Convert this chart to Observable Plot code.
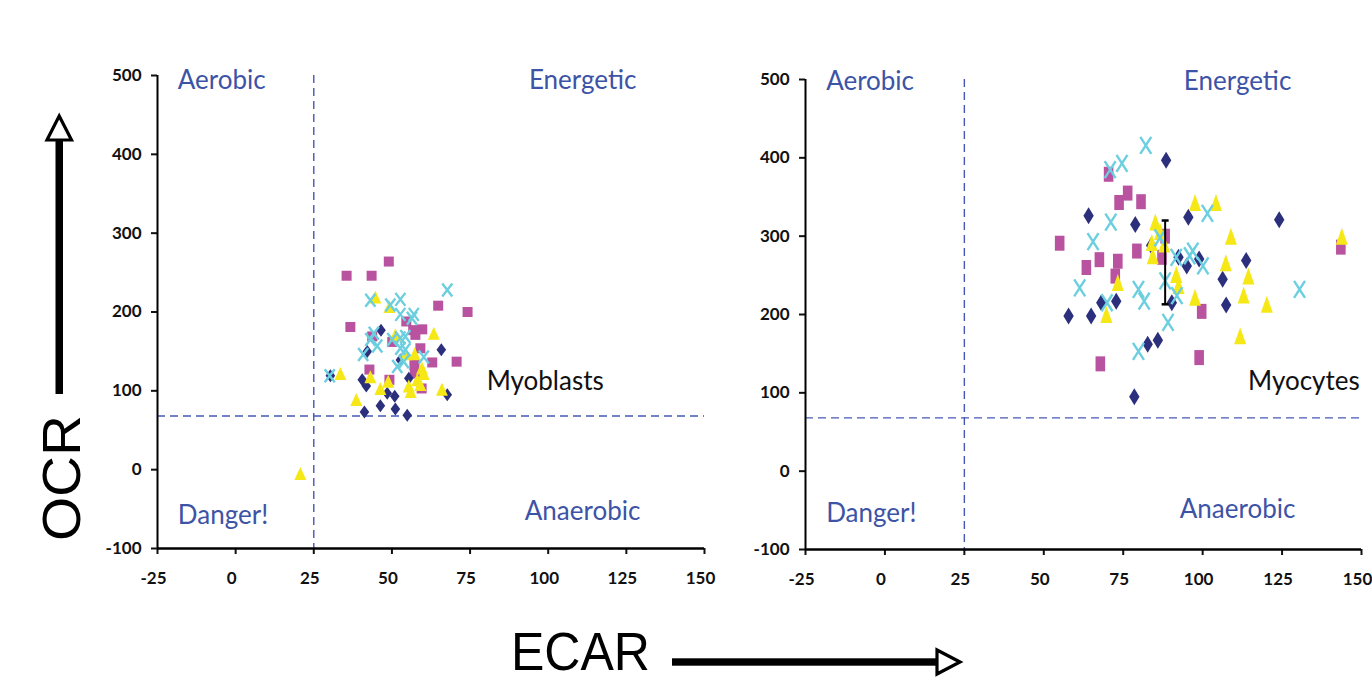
<!DOCTYPE html>
<html><head><meta charset="utf-8">
<script src="https://cdn.jsdelivr.net/npm/d3@7"></script>
<script src="https://cdn.jsdelivr.net/npm/@observablehq/plot@0.6"></script>
<style>
html,body{margin:0;padding:0;background:#fff;}
#wrap{position:relative;width:1372px;height:682px;overflow:hidden;}
.panel{position:absolute;top:0;}
#deco{position:absolute;left:0;top:0;}
</style></head><body><div id="wrap"></div>
<script>
// ---- data ----
const xTicks = [-25, 0, 25, 50, 75, 100, 125, 150];
const yTicks = [-100, 0, 100, 200, 300, 400, 500];
const ecarThreshold = 25;
const ocrThreshold = 68;

const quadrantLabels = ["Aerobic", "Energetic", "Danger!", "Anaerobic"];
const quadrantX = [-18.5, 111, -18.5, 111];
const quadrantY = [494, 494, -58, -53];
const quadrantAnchor = ["start", "middle", "start", "middle"];

// Myoblasts panel (ECAR, OCR)
const blastDiamonds = [[46.5,177],[42.1,150],[65.8,152],[30.3,119],[40.5,114],[41.8,106],[48.5,97],[50.9,93],[55.4,116],[52.7,139],[67.7,95],[41.2,73],[46.3,81],[51.1,77],[54.9,69]];
const blastSquares = [[49,264],[35.5,246],[43.5,246],[64.8,208],[74.2,200],[36.7,181],[54.6,188],[56.8,177],[59.7,178],[57.5,171],[43.7,169],[50.1,162],[59.1,154],[62.9,136],[70.7,137],[42.8,127],[49.2,114],[57.3,122],[59.5,103],[57.2,133]];
const blastTriangles = [[44.7,219],[49.2,207],[51.1,171],[63.4,173],[33.5,122],[43.1,118],[46.3,103],[48.8,112],[38.6,89],[54.5,147],[57.3,147],[59.6,129],[60.2,122],[55.4,106],[58.1,114],[66.0,102],[56.0,99],[59.1,108],[20.7,-5]];
const blastCrosses = [[67.7,228],[43.1,215],[49.5,209],[52.7,216],[52.7,197],[57.0,197],[56.4,192],[44.2,173],[43.1,165],[45.3,157],[40.8,146],[50.1,165],[52.7,167],[54.3,169],[52.7,154],[54.3,152],[53.8,137],[51.7,131],[60.2,143],[30.1,119]];
const blastLabel = {text: "Myoblasts", x: 80.3, y: 112};

// Myocytes panel (ECAR, OCR)
const cyteDiamonds = [[88.5,397],[64.1,326],[78.8,315],[95.5,324],[124.1,321],[83.8,288],[92.4,273],[95.0,262],[98.9,271],[113.7,269],[106.3,245],[107.4,212],[90.3,215],[72.8,217],[68.1,215],[64.9,198],[57.8,198],[82.7,162],[85.9,167],[78.5,95]];
const cyteSquares = [[70.4,379],[76.4,355],[73.7,343],[80.6,344],[55.0,291],[79.3,281],[67.5,270],[63.4,260],[73.3,268],[72.5,249],[87.2,273],[88.2,300],[99.7,204],[67.8,137],[98.9,145],[143.5,286]];
const cyteTriangles = [[97.6,343],[104.2,343],[85.1,318],[84.0,292],[87.9,290],[84.3,275],[86.6,306],[108.9,300],[91.7,251],[92.4,237],[107.3,266],[114.4,249],[112.9,225],[120.2,213],[97.6,222],[111.8,173],[73.3,241],[69.7,200],[143.8,300]];
const cyteCrosses = [[82.1,416],[74.6,393],[70.9,385],[71.1,318],[65.5,293],[61.3,234],[101.5,329],[86.6,298],[91.7,273],[96.9,281],[95.9,275],[100.1,262],[88.2,243],[91.9,224],[79.8,232],[81.6,217],[69.9,215],[89.1,190],[79.8,153],[130.5,232]];
const cyteErrorBar = [{x: 88.2, lo: 213, hi: 320}];
const cyteLabel = {text: "Myocytes", x: 114.3, y: 114};

// ---- styling ----
const colNavy = "#2b2f7c", colMagenta = "#b9529f", colYellow = "#f6e816", colCyan = "#6ccfe0";
const colQuad = "#3d53a6", colDash = "#4658b4";

function sym(kind, hw, hh) {
  return {draw(ctx) {
    if (kind === "diamond") { ctx.moveTo(0,-hh); ctx.lineTo(hw,0); ctx.lineTo(0,hh); ctx.lineTo(-hw,0); ctx.closePath(); }
    else if (kind === "square") { ctx.moveTo(-hw,-hh); ctx.lineTo(hw,-hh); ctx.lineTo(hw,hh); ctx.lineTo(-hw,hh); ctx.closePath(); }
    else if (kind === "triangle") { ctx.moveTo(0,-hh); ctx.lineTo(hw,hh); ctx.lineTo(-hw,hh); ctx.closePath(); }
    else if (kind === "cross") { ctx.moveTo(-hw,-hh); ctx.lineTo(hw,hh); ctx.moveTo(hw,-hh); ctx.lineTo(-hw,hh); }
    else if (kind === "cap") { ctx.moveTo(-hw,0); ctx.lineTo(hw,0); }
  }};
}

function panel(o) {
  const q = quadrantLabels.map((t, i) => ({t, x: quadrantX[i], y: quadrantY[i], a: quadrantAnchor[i]}));
  const tq = {x: "x", y: "y", text: "t", fill: colQuad, fontSize: 26, fontWeight: "normal", fontFamily: "Lato", dy: o.qdy};
  const marks = [
    Plot.ruleX([ecarThreshold], {stroke: colDash, strokeWidth: 1.4, strokeDasharray: "8,5"}),
    Plot.ruleY([ocrThreshold], {stroke: colDash, strokeWidth: 1.4, strokeDasharray: "8,5"}),
    Plot.dot(o.squares, {x: d => d[0], y: d => d[1], symbol: sym("square", o.s[0], o.s[1]), fill: colMagenta, stroke: "none"}),
    Plot.dot(o.diamonds, {x: d => d[0], y: d => d[1], symbol: sym("diamond", o.d[0], o.d[1]), fill: colNavy, stroke: "none"}),
    Plot.dot(o.triangles, {x: d => d[0], y: d => d[1], symbol: sym("triangle", o.t[0], o.t[1]), fill: colYellow, stroke: "none"}),
    Plot.dot(o.crosses, {x: d => d[0], y: d => d[1], symbol: sym("cross", o.c[0], o.c[1]), fill: "none", stroke: colCyan, strokeWidth: 2.4})
  ];
  if (o.errorBar) {
    marks.push(Plot.ruleX(o.errorBar, {x: "x", y1: "lo", y2: "hi", stroke: "#000", strokeWidth: 2}));
    marks.push(Plot.dot(o.errorBar, {x: "x", y: "lo", symbol: sym("cap", 3.5, 0), stroke: "#000", strokeWidth: 2.5}));
    marks.push(Plot.dot(o.errorBar, {x: "x", y: "hi", symbol: sym("cap", 3.5, 0), stroke: "#000", strokeWidth: 2.5}));
  }
  marks.push(
    Plot.text(q.filter(d => d.a === "start"), {...tq, textAnchor: "start"}),
    Plot.text(q.filter(d => d.a === "middle"), {...tq, textAnchor: "middle"}),
    Plot.text([o.label], {x: "x", y: "y", text: "text", textAnchor: "start", fill: "#111", fontSize: 26, fontWeight: "normal", fontFamily: "Lato"}),
    Plot.axisX(xTicks, {tickSize: 6, tickFormat: () => "", strokeWidth: 2, label: null}),
    Plot.axisX(xTicks, {tickSize: 0, tickPadding: 23, dx: -4, tickFormat: d => String(d), fontSize: 17, fontWeight: "bold", label: null}),
    Plot.axisY(yTicks, {tickSize: 6, tickPadding: 10, tickFormat: d => String(d), fontSize: 17, fontWeight: "bold", strokeWidth: 2, label: null}),
    Plot.ruleX([-25], {stroke: "#000", strokeWidth: 2}),
    Plot.ruleY([-100], {stroke: "#000", strokeWidth: 2.6})
  );
  return Plot.plot({
    width: o.width, height: 600,
    marginLeft: o.ml, marginRight: o.mr, marginTop: o.mt, marginBottom: o.mb,
    x: {domain: [-25, 150]},
    y: {domain: [-100, 500]},
    style: {background: "transparent", overflow: "visible", fontFamily: "Lato", color: "#111"},
    marks
  });
}

const left = panel({squares: blastSquares, diamonds: blastDiamonds, triangles: blastTriangles, crosses: blastCrosses,
  s: [5, 5], d: [4.8, 6.5], t: [6, 6.5], c: [5, 6.5], label: blastLabel, qdy: 0,
  width: 712, ml: 157, mr: 8, mt: 75, mb: 52});
const right = panel({squares: cyteSquares, diamonds: cyteDiamonds, triangles: cyteTriangles, crosses: cyteCrosses,
  s: [4.8, 7.5], d: [5.2, 8.5], t: [6, 8.5], c: [5.5, 8.5], label: cyteLabel, errorBar: cyteErrorBar, qdy: -3,
  width: 660, ml: 93, mr: 11, mt: 79, mb: 51});

const wrap = document.getElementById("wrap");
const lw = document.createElement("div"); lw.className = "panel"; lw.style.left = "0px"; lw.appendChild(left); wrap.appendChild(lw);
const rw = document.createElement("div"); rw.className = "panel"; rw.style.left = "712px"; rw.appendChild(right); wrap.appendChild(rw);

// decorative axis titles with arrows
const deco = d3.select(wrap).append("svg").attr("id", "deco").attr("width", 1372).attr("height", 682)
  .style("pointer-events", "none");
deco.append("text").attr("transform", "translate(80,541) rotate(-90)")
  .attr("font-family", "Liberation Sans, Arial, sans-serif").attr("font-size", 54)
  .attr("textLength", 126).attr("lengthAdjust", "spacingAndGlyphs").attr("fill", "#000").text("OCR");
deco.append("rect").attr("x", 55.5).attr("y", 139).attr("width", 7.5).attr("height", 255).attr("fill", "#000");
deco.append("path").attr("d", "M59.2,116 L71.5,140 L47,140 Z").attr("fill", "#fff").attr("stroke", "#000").attr("stroke-width", 3.2).attr("stroke-linejoin", "miter");
deco.append("text").attr("x", 511).attr("y", 670)
  .attr("font-family", "Liberation Sans, Arial, sans-serif").attr("font-size", 54)
  .attr("textLength", 139).attr("lengthAdjust", "spacingAndGlyphs").attr("fill", "#000").text("ECAR");
deco.append("rect").attr("x", 672).attr("y", 658.3).attr("width", 265).attr("height", 7.4).attr("fill", "#000");
deco.append("path").attr("d", "M960,662 L937,650 L937,674 Z").attr("fill", "#fff").attr("stroke", "#000").attr("stroke-width", 3.2);
</script></body></html>
